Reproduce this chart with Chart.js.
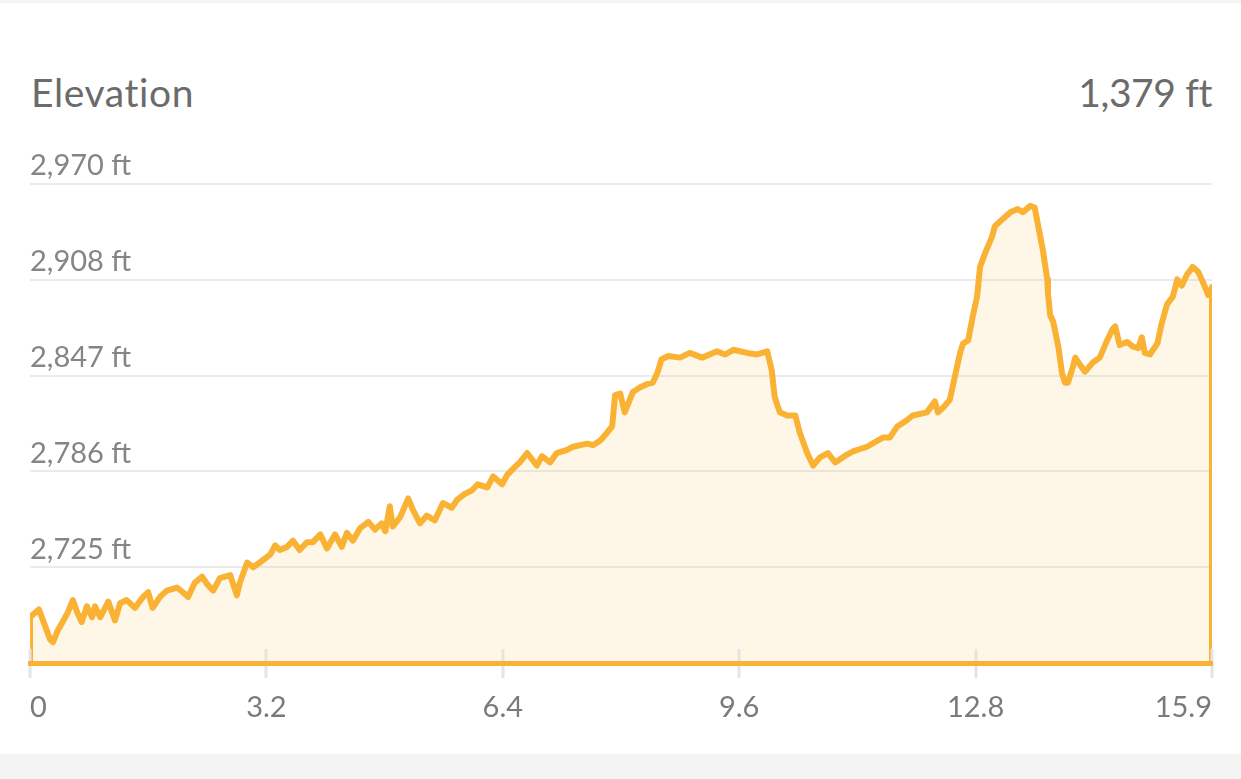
<!DOCTYPE html>
<html>
<head>
<meta charset="utf-8">
<script src="https://cdn.jsdelivr.net/npm/chart.js@4"></script>
<style>
  html, body { margin: 0; padding: 0; }
  body { width: 1241px; height: 779px; background: #f4f4f4; position: relative; overflow: hidden; font-family: Lato, "Open Sans", sans-serif; }
  #card { position: absolute; left: 0; top: 3px; width: 1241px; height: 751px; background: #ffffff; }
  #wrap { position: absolute; left: 0; top: 0; width: 1241px; height: 779px; }
  .hdr { position: absolute; top: 73px; font-size: 39px; line-height: 39px; letter-spacing: 0.6px; color: #6b6b6b; white-space: nowrap; }
  #title { left: 31px; }
  #gain { right: 29px; letter-spacing: -0.4px; }
</style>
</head>
<body>
<div id="card"></div>
<div class="hdr" id="title">Elevation</div>
<div class="hdr" id="gain">1,379 ft</div>
<div id="wrap"><canvas id="c" width="1241" height="779"></canvas></div>
<script>
// Distance along the trail (mi)
const distances = [
  0, 0.12, 0.20, 0.27, 0.31, 0.37, 0.43, 0.51, 0.58, 0.64, 0.70, 0.77, 0.84, 0.88, 0.95,
  1.06, 1.15, 1.22, 1.31, 1.42, 1.53, 1.60, 1.66, 1.76, 1.85, 1.99, 2.07, 2.14, 2.23, 2.33,
  2.40, 2.48, 2.57, 2.71, 2.80, 2.84, 2.94, 3.02, 3.11, 3.25, 3.32, 3.38, 3.48, 3.56, 3.65,
  3.75, 3.83, 3.93, 4.02, 4.13, 4.22, 4.29, 4.37, 4.47, 4.58, 4.67, 4.76, 4.81, 4.87, 4.91,
  5.01, 5.12, 5.18, 5.28, 5.37, 5.48, 5.59, 5.71, 5.78, 5.89, 5.98, 6.06, 6.19, 6.27, 6.39,
  6.46, 6.54, 6.63, 6.73, 6.86, 6.93, 7.04, 7.13, 7.27, 7.35, 7.54, 7.62, 7.72, 7.81, 7.88,
  7.92, 7.99, 8.05, 8.16, 8.26, 8.35, 8.43, 8.49, 8.55, 8.64, 8.80, 8.93, 9.10, 9.30, 9.41,
  9.52, 9.71, 9.84, 9.98, 10.04, 10.08, 10.15, 10.25, 10.36, 10.42, 10.52, 10.60, 10.69, 10.80, 10.90,
  11.06, 11.14, 11.33, 11.55, 11.64, 11.74, 11.87, 11.95, 12.14, 12.25, 12.29, 12.36, 12.45, 12.52, 12.59,
  12.63, 12.70, 12.76, 12.82, 12.86, 12.93, 13.02, 13.06, 13.13, 13.27, 13.37, 13.44, 13.54, 13.60, 13.64,
  13.71, 13.77, 13.78, 13.81, 13.85, 13.92, 13.97, 14.01, 14.05, 14.11, 14.15, 14.19, 14.28, 14.39, 14.48,
  14.58, 14.65, 14.69, 14.75, 14.85, 14.93, 15.00, 15.05, 15.09, 15.16, 15.26, 15.32, 15.39, 15.47, 15.53,
  15.59, 15.66, 15.74, 15.81, 15.88, 15.95, 16.00
];
// Elevation (ft)
const elevations = [
  2693, 2698, 2688, 2679, 2677, 2684, 2689, 2696, 2704, 2696, 2690, 2700, 2693, 2700, 2693,
  2703, 2691, 2702, 2704, 2699, 2706, 2709, 2699, 2706, 2710, 2712, 2709, 2706, 2715, 2719,
  2714, 2710, 2718, 2720, 2707, 2715, 2728, 2725, 2728, 2733, 2739, 2736, 2738, 2742, 2736,
  2741, 2741, 2746, 2737, 2746, 2738, 2747, 2742, 2750, 2754, 2749, 2753, 2748, 2764, 2751,
  2757, 2769, 2762, 2753, 2758, 2755, 2766, 2763, 2768, 2772, 2774, 2778, 2776, 2783, 2778,
  2784, 2788, 2792, 2798, 2790, 2796, 2792, 2798, 2800, 2802, 2804, 2803, 2806, 2811, 2815,
  2835, 2836, 2824, 2837, 2840, 2842, 2843, 2849, 2858, 2860, 2859, 2862, 2859, 2863, 2861,
  2864, 2862, 2861, 2863, 2851, 2834, 2824, 2822, 2822, 2811, 2798, 2790, 2795, 2798, 2792,
  2797, 2799, 2802, 2808, 2808, 2815, 2819, 2822, 2824, 2831, 2824, 2827, 2832, 2847, 2862,
  2868, 2870, 2885, 2898, 2917, 2926, 2936, 2943, 2946, 2952, 2954, 2952, 2956, 2955, 2945,
  2928, 2909, 2900, 2886, 2882, 2866, 2849, 2843, 2843, 2852, 2859, 2856, 2850, 2856, 2859,
  2870, 2877, 2879, 2867, 2869, 2866, 2865, 2872, 2862, 2861, 2868, 2881, 2893, 2898, 2909,
  2905, 2912, 2917, 2914, 2907, 2899, 2904
];
// Axis ticks
const xTickValues = [0, 3.2, 6.4, 9.6, 12.8, 16.0];
const xTickLabels = ['0', '3.2', '6.4', '9.6', '12.8', '15.9'];
const yTickValues = [2725, 2786.25, 2847.5, 2908.75, 2970];
const yTickLabels = ['2,725 ft', '2,786 ft', '2,847 ft', '2,908 ft', '2,970 ft'];
const yMin = 2663.75;
const yMax = 2970;

const ORANGE = '#F9B233';

const profile = distances.map((d, i) => ({ x: d, y: elevations[i] }));
const pathData = [{ x: distances[0], y: yMin }, ...profile, { x: distances[distances.length - 1], y: yMin }];

const tickMarks = {
  id: 'tickMarks',
  afterDatasetsDraw(chart) {
    const xs = chart.scales.x;
    const ctx = chart.ctx;
    const bottom = chart.chartArea.bottom;
    ctx.save();
    ctx.strokeStyle = '#e4e4e4';
    ctx.lineWidth = 3;
    xs.ticks.forEach((t, i) => {
      const px = Math.round(xs.getPixelForTick(i));
      ctx.beginPath();
      ctx.moveTo(px, bottom - 14);
      ctx.lineTo(px, bottom + 15);
      ctx.stroke();
    });
    ctx.restore();
  }
};

new Chart(document.getElementById('c'), {
  type: 'line',
  data: {
    datasets: [{
      data: pathData,
      borderColor: ORANGE,
      borderWidth: 6,
      backgroundColor: 'rgba(249,178,51,0.12)',
      fill: 'start',
      pointRadius: 0,
      tension: 0,
      borderJoinStyle: 'round'
    }]
  },
  options: {
    responsive: false,
    animation: false,
    devicePixelRatio: 1,
    layout: { padding: { left: 30, right: 29, top: 184, bottom: 0 } },
    plugins: { legend: { display: false }, tooltip: { enabled: false } },
    scales: {
      x: {
        type: 'linear',
        min: 0,
        max: 16,
        afterBuildTicks(s) { s.ticks = xTickValues.map(v => ({ value: v })); },
        afterFit(s) { s.height = 116; s.paddingLeft = 0; s.paddingRight = 0; },
        grid: { display: false, drawTicks: false },
        border: { display: true, color: ORANGE, width: 5, z: 1 },
        ticks: {
          align: 'inner',
          autoSkip: false,
          maxRotation: 0,
          padding: 27,
          color: '#7a7a7a',
          font: { family: 'Lato', size: 29 },
          callback: (v, i) => xTickLabels[i]
        }
      },
      y: {
        min: yMin,
        max: yMax,
        afterBuildTicks(s) { s.ticks = yTickValues.map(v => ({ value: v })); },
        afterFit(s) { s.width = 0; },
        grid: { color: '#ebebeb', lineWidth: 2, drawTicks: false },
        border: { display: false },
        ticks: {
          mirror: true,
          padding: 0,
          labelOffset: -18,
          color: '#858585',
          font: { family: 'Lato', size: 29 },
          callback: (v, i) => yTickLabels[i]
        }
      }
    }
  },
  plugins: [tickMarks]
});
</script>
</body>
</html>
